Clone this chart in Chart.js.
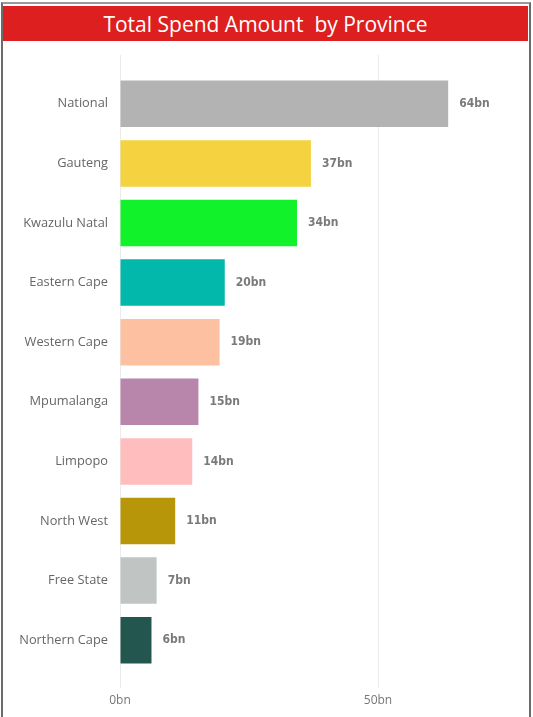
<!DOCTYPE html>
<html lang="en">
<head>
    <meta charset="UTF-8">
    <script src="https://cdn.jsdelivr.net/npm/chart.js"></script>
    <title>Total Spend Amount by Province</title>
    <style>
        body { margin: 0; background: #fff; width: 533px; height: 717px; overflow: hidden; position: relative; }
        .moldura { position: absolute; left: 1px; top: 2px; width: 526px; height: 720px; border-left: 2px solid #6b6b6b; border-right: 2px solid #6b6b6b; border-top: 2px solid #9a9a9a; }
        .titulo { position: absolute; left: 3px; top: 6px; width: 525px; height: 35px; background: #dd1f1f; color: #fff;
            font-family: "Open Sans", "Noto Sans", sans-serif; font-size: 21px; line-height: 36px; text-align: center; white-space: pre; }
        .grafico { position: absolute; left: 0; top: 0; width: 533px; height: 717px; }
    </style>
</head>
<body>
    <div class="moldura"></div>
    <div class="titulo">Total Spend Amount  by Province</div>
    <div class="grafico"><canvas id="MyChart"></canvas></div>

<script>
    // dados (bilhoes)
    var provincias = ['National', 'Gauteng', 'Kwazulu Natal', 'Eastern Cape', 'Western Cape',
        'Mpumalanga', 'Limpopo', 'North West', 'Free State', 'Northern Cape'];
    var valores = [63.6, 37.0, 34.3, 20.3, 19.3, 15.2, 14.0, 10.7, 7.1, 6.1];
    var rotulos = ['64bn', '37bn', '34bn', '20bn', '19bn', '15bn', '14bn', '11bn', '7bn', '6bn'];
    var cores = ['#b3b3b3', '#f4d240', '#12f22a', '#01b8aa', '#fdc1a2',
        '#b885ab', '#ffbdbe', '#b8960a', '#c0c5c4', '#23564f'];
    var ticksX = [0, 50];

    // escreve o valor ao lado de cada barra e prolonga as linhas de grade para cima
    const rotuloBarras = {
        id: 'rotuloBarras',
        beforeDatasetsDraw(chart) {
            const ctx = chart.ctx;
            const x = chart.scales.x;
            ctx.save();
            ctx.strokeStyle = '#ebebeb';
            ctx.lineWidth = 1;
            x.ticks.forEach(function (t) {
                const px = Math.round(x.getPixelForValue(t.value)) + 0.5;
                ctx.beginPath();
                ctx.moveTo(px, 55);
                ctx.lineTo(px, chart.chartArea.top);
                ctx.stroke();
            });
            ctx.restore();
        },
        afterDatasetsDraw(chart) {
            const ctx = chart.ctx;
            const meta = chart.getDatasetMeta(0);
            ctx.save();
            ctx.font = 'bold 12px "DejaVu Sans Condensed", "Liberation Sans Narrow", sans-serif';
            ctx.fillStyle = '#7a7a7a';
            ctx.textBaseline = 'middle';
            meta.data.forEach(function (bar, i) {
                ctx.fillText(rotulos[i], bar.x + 11, bar.y);
            });
            ctx.restore();
        }
    };

    const config = {
        type: 'bar',
        data: {
            labels: provincias,
            datasets: [{
                data: valores,
                backgroundColor: cores,
                barPercentage: 0.78,
                categoryPercentage: 1.0
            }]
        },
        options: {
            indexAxis: 'y',
            responsive: false,
            animation: false,
            layout: { padding: { top: 74, right: 26, left: 0, bottom: 0 } },
            plugins: {
                legend: { display: false },
                tooltip: { enabled: false }
            },
            scales: {
                x: {
                    min: 0,
                    max: 75,
                    afterFit: function (scale) { scale.height = 47; },
                    afterBuildTicks: function (scale) {
                        scale.ticks = ticksX.map(function (v) { return { value: v }; });
                    },
                    border: { display: false },
                    grid: { color: '#ebebeb', lineWidth: 1, tickLength: 18, drawTicks: true },
                    ticks: {
                        padding: 5,
                        color: '#777',
                        font: { family: '"Open Sans", "Noto Sans", sans-serif', size: 12 },
                        callback: function (v) { return v + 'bn'; }
                    }
                },
                y: {
                    afterFit: function (scale) { scale.width = 120; },
                    border: { display: false },
                    grid: { display: false, drawTicks: false },
                    ticks: {
                        padding: 12,
                        color: '#666',
                        font: { family: '"Open Sans", "Noto Sans", sans-serif', size: 12.8 }
                    }
                }
            }
        },
        plugins: [rotuloBarras]
    };

    var canvas = document.getElementById('MyChart');
    canvas.width = 533;
    canvas.height = 717;
    let MyChart = new Chart(canvas, config);
</script>
</body>
</html>
